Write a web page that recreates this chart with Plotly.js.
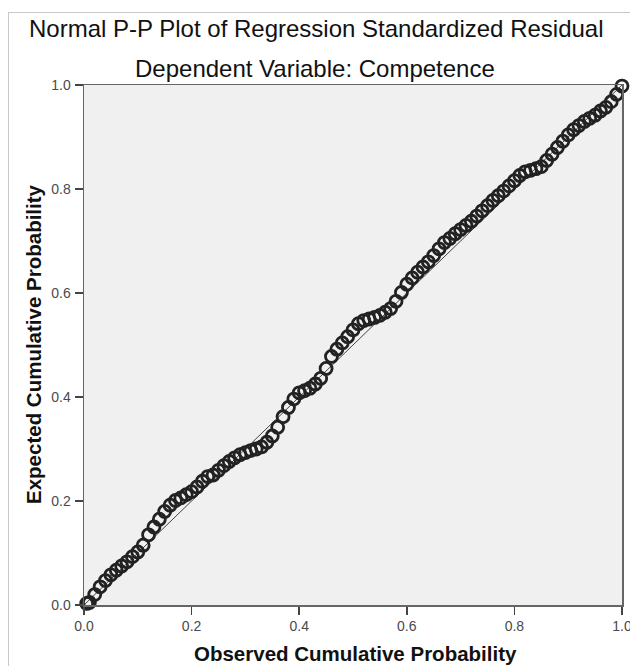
<!DOCTYPE html>
<html>
<head>
<meta charset="utf-8">
<script src="https://cdn.plot.ly/plotly-3.0.1.min.js"></script>
<style>
  html, body { margin: 0; padding: 0; background: #fff; overflow: hidden; }
  #frame { position: absolute; left: 8px; top: 12px; width: 660px; height: 700px; border: 1px solid #c8c8c8; box-sizing: border-box; }
  #chart { position: absolute; left: 0; top: 0; width: 630px; height: 666px; }
</style>
</head>
<body>
<div id="frame"></div>
<div id="chart"></div>
<script>
// Observed cumulative probability (x) and expected cumulative probability (y)
const observed = [
  0.005, 0.01, 0.02, 0.03, 0.04, 0.05, 0.06, 0.07, 0.08, 0.09,
  0.10, 0.11, 0.12, 0.13, 0.14, 0.15, 0.16, 0.17, 0.18, 0.19,
  0.20, 0.21, 0.22, 0.23, 0.24, 0.25, 0.26, 0.27, 0.28, 0.29,
  0.30, 0.31, 0.32, 0.33, 0.34, 0.35, 0.36, 0.37, 0.38, 0.39,
  0.40, 0.41, 0.42, 0.43, 0.44, 0.45, 0.46, 0.47, 0.48, 0.49,
  0.50, 0.51, 0.52, 0.53, 0.54, 0.55, 0.56, 0.57, 0.58, 0.59,
  0.60, 0.61, 0.62, 0.63, 0.64, 0.65, 0.66, 0.67, 0.68, 0.69,
  0.70, 0.71, 0.72, 0.73, 0.74, 0.75, 0.76, 0.77, 0.78, 0.79,
  0.80, 0.81, 0.82, 0.83, 0.84, 0.85, 0.86, 0.87, 0.88, 0.89,
  0.90, 0.91, 0.92, 0.93, 0.94, 0.95, 0.96, 0.97, 0.98, 0.99, 1.00
];
const expected = [
  0.003, 0.005, 0.020, 0.035, 0.047, 0.058, 0.067, 0.075, 0.083, 0.093,
  0.102, 0.115, 0.135, 0.150, 0.165, 0.180, 0.192, 0.201, 0.206, 0.212,
  0.218, 0.227, 0.238, 0.247, 0.250, 0.259, 0.268, 0.276, 0.283, 0.289,
  0.293, 0.297, 0.300, 0.304, 0.313, 0.325, 0.342, 0.362, 0.380, 0.396,
  0.408, 0.412, 0.417, 0.425, 0.436, 0.455, 0.478, 0.492, 0.504, 0.516,
  0.529, 0.541, 0.547, 0.550, 0.553, 0.557, 0.563, 0.570, 0.584, 0.601,
  0.617, 0.629, 0.640, 0.650, 0.660, 0.672, 0.685, 0.697, 0.705, 0.714,
  0.722, 0.730, 0.738, 0.748, 0.758, 0.768, 0.778, 0.787, 0.796, 0.806,
  0.816, 0.826, 0.833, 0.836, 0.839, 0.843, 0.855, 0.867, 0.880, 0.892,
  0.904, 0.914, 0.922, 0.930, 0.936, 0.942, 0.950, 0.957, 0.968, 0.982, 0.998
];
const refLineX = [0, 1];
const refLineY = [0, 1];
const tickVals = [0, 0.2, 0.4, 0.6, 0.8, 1.0];
const tickText = ['0.0', '0.2', '0.4', '0.6', '0.8', '1.0'];

const traces = [
  {
    x: refLineX, y: refLineY, type: 'scatter', mode: 'lines',
    line: { color: '#444', width: 1 }, hoverinfo: 'skip'
  },
  {
    x: observed, y: expected, type: 'scatter', mode: 'markers', cliponaxis: false,
    marker: { symbol: 'circle-open', size: 12, color: '#222', line: { width: 2.8, color: '#222' } }
  }
];

const font = 'Arial, "Liberation Sans", sans-serif';
const axisCommon = {
  range: [0, 1], tickvals: tickVals, ticktext: tickText,
  showgrid: false, zeroline: false,
  showline: true, mirror: true, linecolor: '#666', linewidth: 1.5,
  ticks: 'outside', ticklen: 8, tickcolor: '#444', tickwidth: 1.5,
  ticklabeloverflow: 'allow',
  tickfont: { size: 14, color: '#4a4a4a', family: font }
};
const layout = {
  width: 630, height: 666,
  margin: { l: 84, r: 8, t: 85, b: 61 },
  paper_bgcolor: 'rgba(0,0,0,0)',
  plot_bgcolor: '#f0f0f0',
  showlegend: false,
  font: { family: font, color: '#555', size: 14 },
  xaxis: Object.assign({}, axisCommon),
  yaxis: Object.assign({}, axisCommon, { ticklabelstandoff: 1 }),
  annotations: [
    { text: 'Normal P-P Plot of Regression Standardized Residual', xref: 'paper', yref: 'paper',
      x: 0.5, y: 1, xanchor: 'center', yanchor: 'middle', yshift: 57, xshift: -37,
      showarrow: false, font: { family: font, size: 24, color: '#111' } },
    { text: 'Dependent Variable: Competence', xref: 'paper', yref: 'paper',
      x: 0.5, y: 1, xanchor: 'center', yanchor: 'middle', yshift: 17, xshift: -38,
      showarrow: false, font: { family: font, size: 24, color: '#111' } },
    { text: '<b>Observed Cumulative Probability</b>', xref: 'paper', yref: 'paper',
      x: 0.5, y: 0, xanchor: 'center', yanchor: 'middle', yshift: -48, xshift: 2,
      showarrow: false, font: { family: font, size: 20.5, color: '#111' } },
    { text: '<b>Expected Cumulative Probability</b>', xref: 'paper', yref: 'paper',
      x: 0, y: 0.5, xanchor: 'center', yanchor: 'middle', xshift: -51, yshift: 1, textangle: -90,
      showarrow: false, font: { family: font, size: 20.5, color: '#111' } }
  ]
};

Plotly.newPlot('chart', traces, layout, { displayModeBar: false, staticPlot: true });
</script>
</body>
</html>
